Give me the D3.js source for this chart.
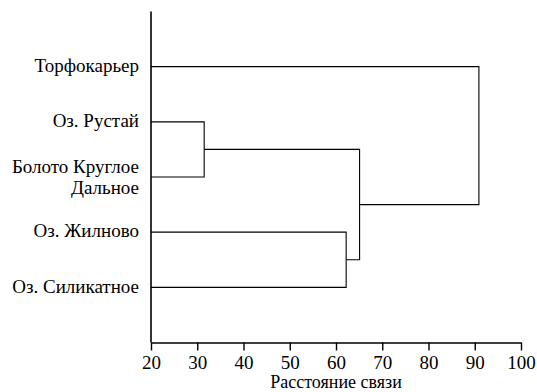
<!DOCTYPE html>
<html>
<head>
<meta charset="utf-8">
<script src="https://cdn.jsdelivr.net/npm/d3@7"></script>
</head>
<body style="margin:0">
<script>
// leaves, top to bottom
const leaves = ["Торфокарьер", "Оз. Рустай", "Болото Круглое\nДальное", "Оз. Жилново", "Оз. Силикатное"];
// merges: [left node, right node, distance]; new nodes get index leaves.length + i
const mergeLeft = [1, 3, 5, 0];
const mergeRight = [2, 4, 6, 7];
const mergeDist = [31.5, 62.2, 65.1, 90.9];
const tickValues = [20, 30, 40, 50, 60, 70, 80, 90, 100];
const axisTitle = "Расстояние связи";

const W = 537, H = 392;
const margin = {top: 11.5, right: 16, bottom: 49.5, left: 151};
const serif = "Liberation Serif, Times New Roman, serif";

const svg = d3.select("body").append("svg")
    .attr("width", W)
    .attr("height", H)
    .attr("font-family", serif);

const xScale = d3.scaleLinear()
    .domain([20, 100])
    .range([margin.left, W - margin.right]);

const yScale = d3.scalePoint()
    .domain(d3.range(leaves.length))
    .range([margin.top, H - margin.bottom])
    .padding(1);

// node positions: leaves first, then merged clusters
const nodes = leaves.map((name, i) => ({y: yScale(i), h: xScale.domain()[0]}));
mergeDist.forEach((d, i) => {
    const a = nodes[mergeLeft[i]], b = nodes[mergeRight[i]];
    nodes.push({y: (a.y + b.y) / 2, h: d, a: a, b: b});
});

// dendrogram links (elbow)
nodes.filter(n => n.a).forEach(n => {
    const x = xScale(n.h);
    const p = d3.path();
    p.moveTo(xScale(n.a.h), n.a.y);
    p.lineTo(x, n.a.y);
    p.lineTo(x, n.b.y);
    p.lineTo(xScale(n.b.h), n.b.y);
    svg.append("path")
        .attr("d", p.toString())
        .attr("fill", "none")
        .attr("stroke", "#000")
        .attr("stroke-width", 1.1);
});

// y axis: plain vertical line
svg.append("line")
    .attr("x1", xScale(20)).attr("x2", xScale(20))
    .attr("y1", margin.top).attr("y2", H - margin.bottom)
    .attr("stroke", "#000")
    .attr("stroke-width", 1.6);

// leaf labels, one text per line
leaves.forEach((name, i) => {
    const lines = name.split("\n");
    lines.forEach((ln, j) => {
        const dy = lines.length > 1 ? (j === 0 ? -4.5 : 17.3) : 5.2;
        svg.append("text")
            .attr("x", xScale(20) - 12)
            .attr("y", yScale(i) + dy)
            .attr("text-anchor", "end")
            .attr("font-family", serif)
            .attr("font-size", 19)
            .attr("fill", "#000")
            .text(ln);
    });
});

// x axis
const xAxis = svg.append("g")
    .attr("transform", `translate(0, ${H - margin.bottom})`)
    .call(d3.axisBottom(xScale).tickValues(tickValues).tickSize(8).tickSizeOuter(0).tickPadding(5));

xAxis.attr("font-family", serif).attr("font-size", 19);
xAxis.select(".domain").attr("stroke", "#000").attr("stroke-width", 1.4);
xAxis.selectAll(".tick line").attr("stroke", "#000").attr("stroke-width", 1.4);
xAxis.selectAll(".tick text").attr("fill", "#000");

svg.append("text")
    .attr("x", (xScale.range()[0] + xScale.range()[1]) / 2)
    .attr("y", H - 4)
    .attr("text-anchor", "middle")
    .attr("font-family", serif)
    .attr("font-size", 18)
    .attr("fill", "#000")
    .text(axisTitle);
</script>
</body>
</html>
